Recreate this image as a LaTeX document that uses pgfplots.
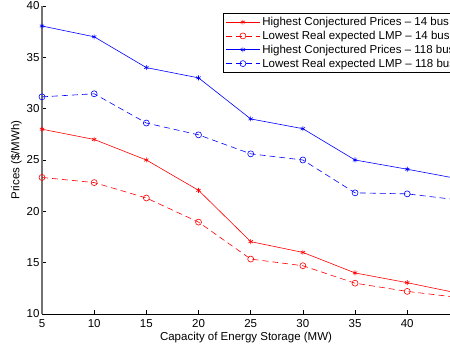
\documentclass[border=0pt]{standalone}
\usepackage{pgfplots}
\pgfplotsset{compat=1.18}
\usepackage{fontspec}
\setmainfont{Liberation Sans}
\begin{document}
\begin{tikzpicture}
\begin{axis}[
  scale only axis,
  width=408pt, height=308pt,
  xmin=5, xmax=44.1, ymin=10, ymax=40,
  axis lines=left,
  axis line style={-},
  x axis line style={black, line width=0.6pt},
  y axis line style={black!55, line width=1.3pt},
  xtick={5,10,...,40}, ytick={10,15,...,40},
  tick align=inside,
  major tick length=4pt,
  tick style={black, line width=0.6pt},
  /pgf/number format/assume math mode=true,
  tick label style={font=\fontsize{11.5}{13}\selectfont},
  label style={font=\fontsize{11.5}{13}\selectfont},
  xticklabel style={yshift=-2pt},
  yticklabel style={xshift=1pt},
  xlabel={Capacity of Energy Storage (MW)},
  ylabel={Prices (\$/MWh)},
  xlabel style={yshift=2pt},
  ylabel style={yshift=-2pt},
  legend style={at={(rel axis cs:0.444,0.978)}, anchor=north west,
    font=\fontsize{11.5}{13}\selectfont, draw=black, line width=0.8pt,
    row sep=0pt, inner sep=2pt, cells={anchor=west}},
  legend cell align=left,
  legend image code/.code={\draw[#1, line width=0.6pt] (0cm,0cm) -- (1.2cm,0cm); \draw[#1, mark repeat=2, mark phase=2] plot coordinates {(0cm,0cm) (0.6cm,0cm) (1.2cm,0cm)};},
  every axis plot/.append style={line width=0.6pt},
]
\coordinate (SW) at (rel axis cs:0,0);
\coordinate (NE) at (rel axis cs:1,1);
\addplot[red, mark=asterisk, mark size=2.5pt] coordinates {
 (5,28) (10,27) (15,25) (20,22.05) (25,17.05) (30,16) (35,14) (40,13.05) (45,12.0)};
\addlegendentry{Highest Conjectured Prices -- 14 bus}
\addplot[red, dash pattern=on 6pt off 4pt, mark=o, mark size=3pt, mark options={solid}] coordinates {
 (5,23.3) (10,22.8) (15,21.3) (20,18.95) (25,15.35) (30,14.7) (35,13.0) (40,12.2) (45,11.6)};
\addlegendentry{Lowest Real expected LMP -- 14 bus}
\addplot[blue, mark=asterisk, mark size=2.5pt] coordinates {
 (5,38.05) (10,37) (15,34) (20,33) (25,29) (30,28.05) (35,25) (40,24.1) (45,23.15)};
\addlegendentry{Highest Conjectured Prices -- 118 bus}
\addplot[blue, dash pattern=on 6pt off 4pt, mark=o, mark size=3pt, mark options={solid}] coordinates {
 (5,31.15) (10,31.45) (15,28.6) (20,27.45) (25,25.6) (30,25.0) (35,21.8) (40,21.7) (45,21.1)};
\addlegendentry{Lowest Real expected LMP -- 118 bus}
\end{axis}
\pgfresetboundingbox
\path ([xshift=-42pt,yshift=-35pt]SW) rectangle ([yshift=6pt]NE);
\end{tikzpicture}
\end{document}
